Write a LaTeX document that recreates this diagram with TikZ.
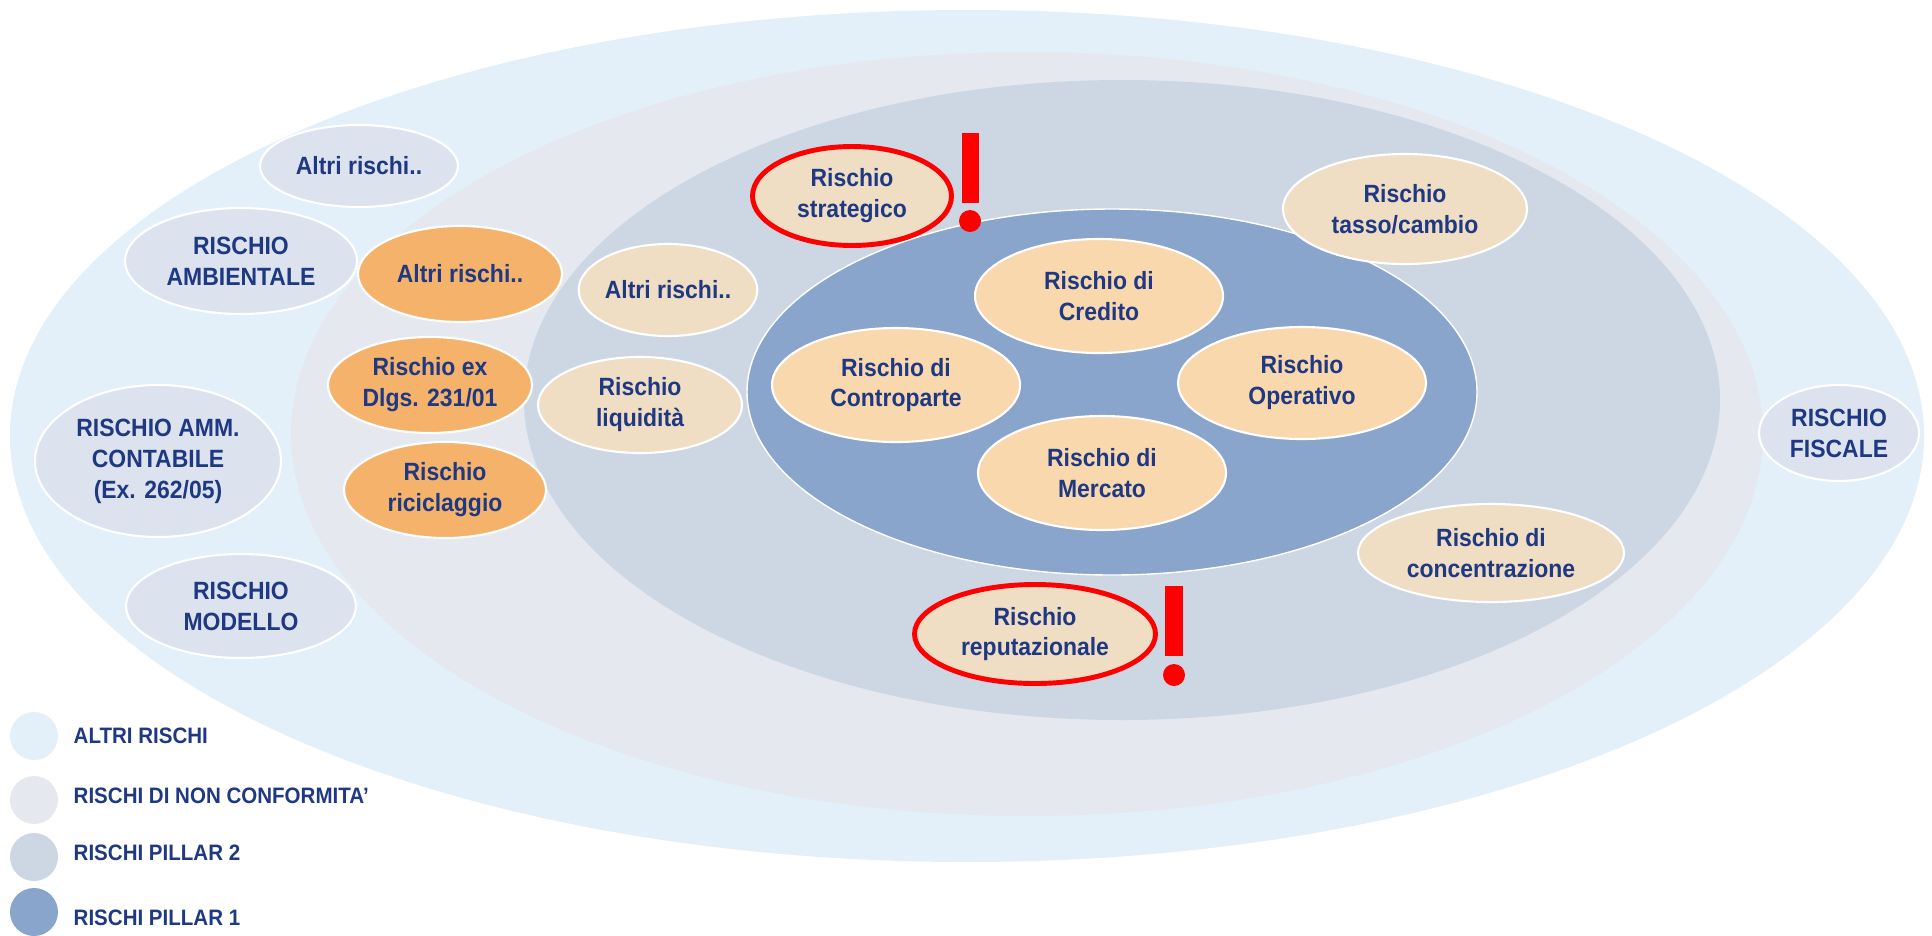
\documentclass[tikz,border=0pt]{standalone}
\usepackage{fontspec}
\setmainfont{Liberation Sans}[FakeStretch=0.92]
\usetikzlibrary{shapes}
\definecolor{ringA}{RGB}{227,239,249}
\definecolor{ringB}{RGB}{229,233,239}
\definecolor{ringC}{RGB}{205,215,228}
\definecolor{ringD}{RGB}{137,165,203}
\definecolor{greyfill}{RGB}{220,226,238}
\definecolor{orangefill}{RGB}{244,178,107}
\definecolor{tanfill}{RGB}{239,221,196}
\definecolor{peachfill}{RGB}{249,216,174}
\definecolor{textblue}{RGB}{31,56,130}

\begin{document}
\begin{tikzpicture}[every node/.style={font=\bfseries\fontsize{7.1pt}{8.8pt}\selectfont,text=textblue,align=center,inner sep=0pt},
    ring/.style={shape=ellipse},
    risk/.style={shape=ellipse,draw=white,line width=0.6pt},
    alert/.style={shape=ellipse,draw=red,line width=1.4pt,fill=tanfill},
    key/.style={shape=circle,minimum size=0.48cm},
    keytext/.style={anchor=base west,font=\bfseries\fontsize{6.35pt}{7pt}\selectfont}]
                \useasboundingbox(0, 0) rectangle (19.32, -9.35);
                % rings
                \node[ring,fill=ringA,minimum width=19.14cm,minimum height=8.52cm](A)at(9.67, -4.36){};
                \node[ring,fill=ringB,minimum width=14.72cm,minimum height=7.64cm](B)at(10.27, -4.34){};
                \node[ring,fill=ringC,minimum width=11.96cm,minimum height=6.40cm](C)at(11.22, -4.00){};
                \node[ring,fill=ringD,draw=white,line width=0.4pt,minimum width=7.30cm,minimum height=3.66cm](D)at(11.12, -3.92){};

                % pillar 1
                \node[risk,fill=peachfill,minimum width=2.48cm,minimum height=1.14cm](1)at(10.99, -2.96){Rischio di\\Credito};
                \node[risk,fill=peachfill,minimum width=2.48cm,minimum height=1.14cm](2)at(8.96, -3.85){Rischio di\\Controparte};
                \node[risk,fill=peachfill,minimum width=2.48cm,minimum height=1.12cm](3)at(13.02, -3.83){Rischio\\Operativo};
                \node[risk,fill=peachfill,minimum width=2.48cm,minimum height=1.14cm](4)at(11.02, -4.73){Rischio di\\Mercato};

                % pillar 2
                \node[risk,fill=tanfill,minimum width=1.72cm,minimum height=0.92cm](1_)at(6.68, -2.90){Altri rischi..};
                \node[risk,fill=tanfill,minimum width=2.04cm,minimum height=0.96cm](2_)at(6.40, -4.05){Rischio\\liquidità};
                \node[alert,minimum width=1.99cm,minimum height=0.99cm](3_)at(8.52, -1.96){Rischio\\strategico};
                \node[risk,fill=tanfill,minimum width=2.44cm,minimum height=1.10cm](4_)at(14.05, -2.09){Rischio\\tasso/cambio};
                \node[risk,fill=tanfill,minimum width=2.66cm,minimum height=0.98cm](5_)at(14.91, -5.53){Rischio di\\concentrazione};
                \node[alert,minimum width=2.41cm,minimum height=0.99cm](6_)at(10.35, -6.34){Rischio\\reputazionale};
                \fill[red](9.62, -1.33) rectangle (9.79, -2.03);
                \fill[red](9.70, -2.21) circle[radius=0.11];
                \fill[red](11.65, -5.86) rectangle (11.83, -6.56);
                \fill[red](11.74, -6.75) circle[radius=0.11];

                % non conformita
                \node[risk,fill=orangefill,minimum width=2.04cm,minimum height=0.96cm](1__)at(4.60, -2.74){Altri rischi..};
                \node[risk,fill=orangefill,minimum width=2.04cm,minimum height=0.96cm](2__)at(4.30, -3.85){Rischio ex\\Dlgs. 231/01};
                \node[risk,fill=orangefill,minimum width=2.02cm,minimum height=0.96cm](3__)at(4.45, -4.90){Rischio\\riciclaggio};

                % altri rischi
                \node[risk,fill=greyfill,minimum width=1.98cm,minimum height=0.82cm](1___)at(3.59, -1.66){Altri rischi..};
                \node[risk,fill=greyfill,minimum width=2.32cm,minimum height=1.06cm](2___)at(2.41, -2.61){RISCHIO\\AMBIENTALE};
                \node[risk,fill=greyfill,minimum width=2.46cm,minimum height=1.52cm](3___)at(1.58, -4.61){RISCHIO AMM.\\CONTABILE\\(Ex. 262/05)};
                \node[risk,fill=greyfill,minimum width=2.30cm,minimum height=1.04cm](4___)at(2.41, -6.06){RISCHIO\\MODELLO};
                \node[risk,fill=greyfill,minimum width=1.60cm,minimum height=0.96cm](5___)at(18.39, -4.33){RISCHIO\\FISCALE};

                % legend
                \node[key,fill=ringA](k1)at(0.34, -7.36){};
                \node[key,fill=ringB](k2)at(0.34, -8.00){};
                \node[key,fill=ringC](k3)at(0.34, -8.57){};
                \node[key,fill=ringD](k4)at(0.34, -9.12){};
                \node[keytext](t1)at(0.73, -7.43){ALTRI RISCHI};
                \node[keytext](t2)at(0.73, -8.03){RISCHI DI NON CONFORMITA'};
                \node[keytext](t3)at(0.73, -8.60){RISCHI PILLAR 2};
                \node[keytext](t4)at(0.73, -9.25){RISCHI PILLAR 1};
            \end{tikzpicture}
\end{document}
